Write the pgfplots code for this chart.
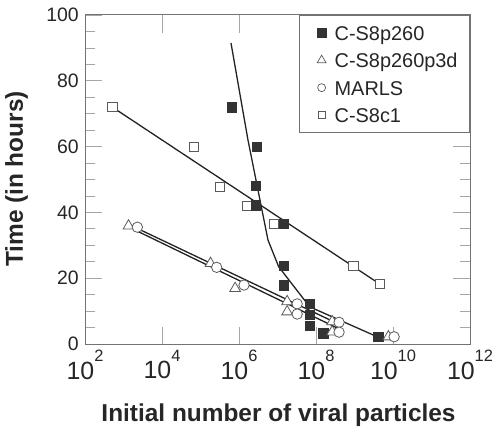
\documentclass[border=0pt]{standalone}
\usepackage{pgfplots}
\pgfplotsset{compat=1.18}
\usepackage{fontspec}
\setmainfont{Liberation Sans}
\definecolor{fillsq}{HTML}{333333}
\definecolor{edge}{HTML}{5A5A5A}
\definecolor{lin}{HTML}{222222}
\definecolor{txt}{HTML}{262626}
\newcommand{\tp}[1]{10\raisebox{0.7em}{\fontsize{16.5}{16.5}\selectfont #1}}
\begin{document}
\begin{tikzpicture}
\begin{axis}[
  at={(0,0)}, anchor=south west,
  scale only axis, width=385bp, height=329bp,
  xmode=log, xmin=1e2, xmax=1e12, ymin=0, ymax=100,
  xtick={1e2,1e4,1e6,1e8,1e10,1e12},
  xticklabels={\tp{2},\tp{4},\tp{6},\tp{8},\tp{10},\tp{12}},
  xminorticks=false,
  ytick={0,20,40,60,80,100},
  minor y tick num=3,
  tick align=inside,
  major tick length=17.5bp, minor tick length=10bp,
  every tick/.style={draw=black!35, line width=0.8bp},
  axis line style={draw=black!55, line width=1bp},
  /pgf/number format/assume math mode=true,
  xticklabel style={font=\fontsize{25}{25}\selectfont, text=txt, anchor=north, inner sep=0pt, yshift=-6bp},
  yticklabel style={font=\fontsize{19.5}{20}\selectfont, text=txt, anchor=east, inner sep=0pt, xshift=-6bp},
  legend image code/.code={\path[draw=none, fill=none] (-7bp,0bp) rectangle (16bp,0bp); \path[draw=none, fill=none, #1] plot[only marks] coordinates {(8bp,0bp)};},
  legend cell align=left,
  legend style={at={(1,1)}, anchor=north east, draw=black!55, line width=0.8bp, fill=white,
    inner xsep=7bp, inner ysep=6bp, row sep=5bp,
    nodes={inner xsep=5bp, inner ysep=2bp, text height=17bp, text depth=1.5bp, font=\fontsize{20}{20}\selectfont, text=txt}},
]
% legend entries
\addlegendimage{only marks, mark=square*, mark size=4.2bp, mark options={fill=fillsq, draw=fillsq, line width=0.6bp}}
\addlegendentry{C-S8p260}
\addlegendimage{only marks, mark=triangle*, mark size=5bp, mark options={draw=edge, fill=white, line width=0.7bp}}
\addlegendentry{C-S8p260p3d}
\addlegendimage{only marks, mark=*, mark size=4bp, mark options={draw=edge, fill=white, line width=0.7bp}}
\addlegendentry{MARLS}
\addlegendimage{only marks, mark=square*, mark size=3.6bp, mark options={draw=edge, fill=white, line width=0.7bp}}
\addlegendentry{C-S8c1}

% fitted lines
\addplot[forget plot, no marks, draw=lin, line width=1.3bp] coordinates {
  (5.13e2,72) (4.57e9,18.2)};
\addplot[forget plot, no marks, draw=lin, line width=1.3bp] coordinates {
  (1.35e3,36.4) (3.5e8,6.3)};
\addplot[forget plot, no marks, draw=lin, line width=1.3bp] coordinates {
  (2.29e3,34.3) (3.5e8,4.9)};
\addplot[forget plot, no marks, draw=lin, line width=1.3bp] coordinates {
  (6.19e5,91.5) (1.71e6,62.0) (2.99e6,47.8) (5.66e6,31.6) (1.07e7,23.5) (6.86e7,11.3) (4.07e9,2.1)};

% C-S8c1 open squares
\addplot[forget plot, only marks, mark=square*, mark size=4.7bp, mark options={draw=edge, fill=white, line width=0.8bp}] coordinates {
  (5.13e2,72) (6.76e4,60) (3.24e5,47.8) (1.58e6,42.0) (8.13e6,36.5) (9.33e8,23.8) (4.57e9,18.2)};
% C-S8p260 filled squares
\addplot[forget plot, only marks, mark=square*, mark size=4.7bp, mark options={draw=fillsq, fill=fillsq, line width=0.6bp}] coordinates {
  (6.46e5,72) (2.9e6,60) (2.75e6,48) (2.75e6,42.2) (1.45e7,36.5) (1.45e7,23.7) (1.45e7,17.8)
  (6.9e7,12.2) (6.9e7,8.8) (6.9e7,5.6) (1.55e8,3.3) (4.17e9,2.2)};
% C-S8p260p3d triangles
\addplot[forget plot, only marks, mark=triangle*, mark size=6.2bp, mark options={draw=edge, fill=white, line width=0.8bp}] coordinates {
  (1.35e3,35.9) (1.82e5,24.5) (7.94e5,16.9) (1.78e7,12.9) (1.78e7,9.8) (2.63e8,6.8) (2.63e8,3.7) (7.59e9,2.2)};
% MARLS circles
\addplot[forget plot, only marks, mark=*, mark size=5.2bp, mark options={draw=edge, fill=white, line width=0.8bp}] coordinates {
  (2.29e3,35.5) (2.63e5,23.3) (1.35e6,17.9) (3.24e7,12.2) (3.24e7,9.1) (3.98e8,6.6) (3.98e8,3.6) (1.07e10,2.2)};
\end{axis}
\node[rotate=90, anchor=base, font=\fontsize{24.5}{25}\bfseries, text=txt] at (-62bp,165bp) {Time (in hours)};
\node[anchor=base, font=\fontsize{24.5}{25}\bfseries, text=txt] at (193.5bp,-77.7bp) {Initial number of viral particles};
\path (-85bp,-84bp) rectangle (415bp,344bp);
\end{tikzpicture}
\end{document}
